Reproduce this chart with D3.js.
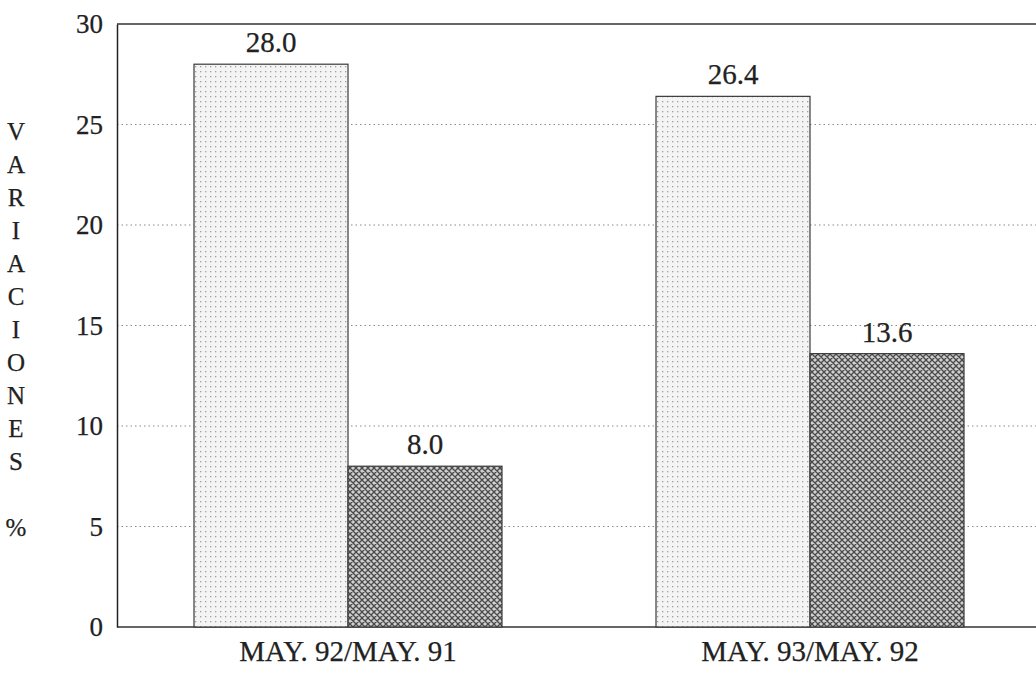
<!DOCTYPE html>
<html>
<head>
<meta charset="utf-8">
<script src="https://cdn.jsdelivr.net/npm/d3@7"></script>
<style>
  body { margin: 0; background: #fff; }
  svg { display: block; }
  .lbl { font-family: "Liberation Serif", "DejaVu Serif", serif; fill: #222; stroke: #222; stroke-width: 0.25px; }
</style>
</head>
<body>
<div id="chart"></div>
<script>
var categories = ["MAY. 92/MAY. 91", "MAY. 93/MAY. 92"];
var seriesA = [28.0, 26.4];
var seriesB = [8.0, 13.6];
var yTicks = [0, 5, 10, 15, 20, 25, 30];
var axisTitle = ["V", "A", "R", "I", "A", "C", "I", "O", "N", "E", "S", "", "%"];

var width = 1036;
var height = 677;

var svg = d3.select("#chart").append("svg")
  .attr("width", width)
  .attr("height", height);

var defs = svg.append("defs");

// light dotted fill
var dots = defs.append("pattern")
  .attr("id", "dots")
  .attr("width", 5)
  .attr("height", 5)
  .attr("patternUnits", "userSpaceOnUse");
dots.append("rect").attr("width", 5).attr("height", 5).attr("fill", "#f4f4f4");
dots.append("rect").attr("x", 1).attr("y", 1).attr("width", 1.3).attr("height", 1.3).attr("fill", "#a0a0a0");

// crosshatch fill
var hatch = defs.append("pattern")
  .attr("id", "hatch")
  .attr("width", 6)
  .attr("height", 6)
  .attr("patternUnits", "userSpaceOnUse");
hatch.append("rect").attr("width", 6).attr("height", 6).attr("fill", "#cfcfcf");
hatch.append("path")
  .attr("d", "M0,0 L6,6 M6,0 L0,6 M-1,5 L1,7 M5,-1 L7,1 M-1,1 L1,-1 M5,7 L7,5")
  .attr("stroke", "#4a4a4a")
  .attr("stroke-width", 1.3);

var plotLeft = 117, plotRight = 1036, plotTop = 24, plotBottom = 627;

var x0 = d3.scaleBand()
  .domain(categories)
  .range([plotLeft, 1041])
  .paddingInner(1 / 3)
  .paddingOuter(1 / 6);

var x1 = d3.scaleBand()
  .domain([0, 1])
  .range([0, x0.bandwidth()]);

var y = d3.scaleLinear()
  .domain([0, 30])
  .range([plotBottom, plotTop]);

// dotted gridlines
svg.append("g")
  .selectAll("line")
  .data(yTicks.filter(function(d) { return d > 0 && d < 30; }))
  .enter()
  .append("line")
    .attr("x1", plotLeft)
    .attr("x2", plotRight)
    .attr("y1", function(d) { return y(d); })
    .attr("y2", function(d) { return y(d); })
    .attr("stroke", "#8a8a8a")
    .attr("stroke-width", 1)
    .attr("stroke-dasharray", "1.5,3");

// top frame line and baseline
svg.append("line")
  .attr("x1", plotLeft).attr("x2", plotRight)
  .attr("y1", y(30)).attr("y2", y(30))
  .attr("stroke", "#333").attr("stroke-width", 1.5);
svg.append("line")
  .attr("x1", plotLeft).attr("x2", plotRight)
  .attr("y1", y(0)).attr("y2", y(0))
  .attr("stroke", "#333").attr("stroke-width", 1.5);

var rows = categories.map(function(c, i) {
  return { cat: c, vals: [seriesA[i], seriesB[i]] };
});

var groups = svg.append("g")
  .selectAll("g")
  .data(rows)
  .enter()
  .append("g")
    .attr("transform", function(d) { return "translate(" + x0(d.cat) + ",0)"; });

groups.selectAll("rect")
  .data(function(d) { return d.vals; })
  .enter()
  .append("rect")
    .attr("x", function(d, i) { return x1(i); })
    .attr("y", function(d) { return y(d); })
    .attr("width", x1.bandwidth())
    .attr("height", function(d) { return y(0) - y(d); })
    .attr("fill", function(d, i) { return i === 0 ? "url(#dots)" : "url(#hatch)"; })
    .attr("stroke", "#3a3a3a")
    .attr("stroke-width", 1.2);

groups.selectAll("text")
  .data(function(d) { return d.vals; })
  .enter()
  .append("text")
    .attr("class", "lbl")
    .attr("x", function(d, i) { return x1(i) + x1.bandwidth() / 2; })
    .attr("y", function(d) { return y(d) - 12; })
    .attr("text-anchor", "middle")
    .attr("font-size", 29)
    .text(function(d) { return d.toFixed(1); });

// y axis
var yAxis = d3.axisLeft(y)
  .tickValues(yTicks)
  .tickSize(0)
  .tickPadding(14)
  .tickFormat(d3.format("d"));

var ya = svg.append("g")
  .attr("transform", "translate(" + plotLeft + ",0)")
  .call(yAxis);
ya.select(".domain").attr("stroke", "#222").attr("stroke-width", 1.5);
ya.selectAll("text")
  .attr("class", "lbl")
  .attr("font-size", 27)
  .attr("fill", "#222");

// x labels
var xAxis = d3.axisBottom(x0).tickSize(0).tickPadding(13);
var xa = svg.append("g")
  .attr("transform", "translate(0," + plotBottom + ")")
  .call(xAxis);
xa.select(".domain").remove();
xa.selectAll("text")
  .attr("class", "lbl")
  .attr("font-size", 29)
  .attr("fill", "#222");

// vertical stacked title
svg.append("g")
  .selectAll("text")
  .data(axisTitle)
  .enter()
  .append("text")
    .attr("class", "lbl")
    .attr("x", 16)
    .attr("y", function(d, i) { return 140 + i * 33; })
    .attr("text-anchor", "middle")
    .attr("font-size", 25)
    .text(function(d) { return d; });
</script>
</body>
</html>
